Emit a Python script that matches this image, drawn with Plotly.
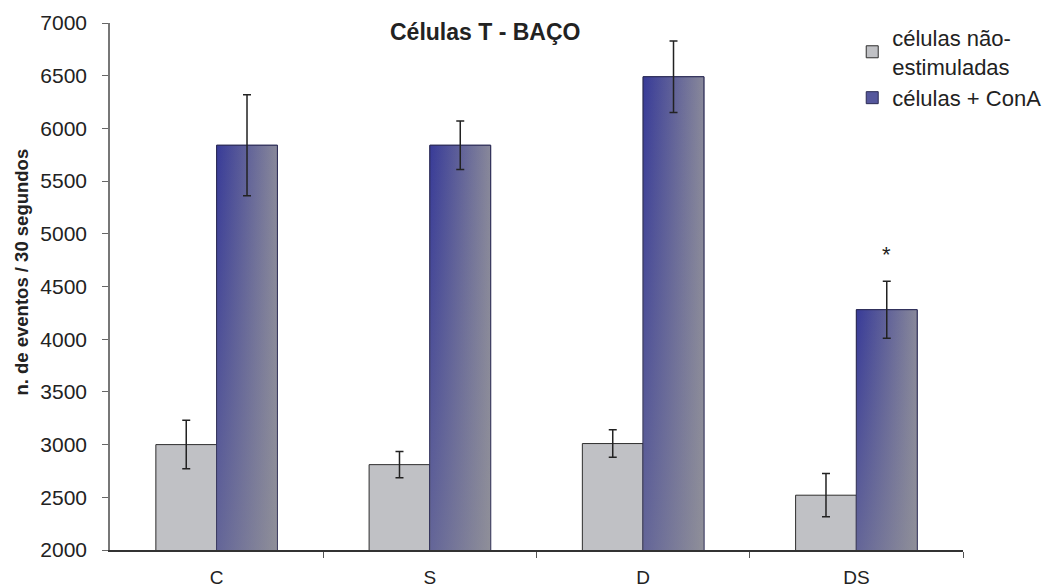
import plotly.graph_objects as go

# Groups on the x axis
groups = ["C", "S", "D", "DS"]

# Unstimulated cells (mean and error)
unstim = [3000, 2810, 3010, 2520]
unstim_err = [230, 125, 130, 205]

# Cells + ConA (mean and error)
cona = [5840, 5840, 6490, 4280]
cona_err = [480, 230, 340, 270]

# Significance marks above the ConA bars
sig_marks = ["", "", "", "*"]

y_ticks = [2000, 2500, 3000, 3500, 4000, 4500, 5000, 5500, 6000, 6500, 7000]

FONT = "Liberation Sans, Arial, sans-serif"
BARGAP = 0.43
W = (1 - BARGAP) / 2          # width of one bar in category units
pos = list(range(len(groups)))

fig = go.Figure()

fig.add_trace(go.Bar(
    x=pos, y=unstim, name="células não-<br>estimuladas", offsetgroup="a",
    marker=dict(color="#c0c1c5", line=dict(color="#2e2e2e", width=1)),
    error_y=dict(type="data", array=unstim_err, color="#222222", thickness=1.5, width=4),
    hoverinfo="skip",
))
fig.add_trace(go.Bar(
    x=pos, y=cona, name="células + ConA", offsetgroup="b",
    marker=dict(color="#55579c", line=dict(color="#2b2b55", width=1)),
    hoverinfo="skip",
))

# Gradient faces of the ConA bars, laid over the bars with the same geometry
for i, v in zip(pos, cona):
    xs = [i, i, i + W, i + W, i]
    ys = [0, v, v, 0, 0]
    fig.add_trace(go.Scatter(
        x=xs, y=ys, mode="lines", fill="toself",
        fillgradient=dict(type="horizontal",
                          colorscale=[[0, "#383b98"], [1, "#88889a"]]),
        line=dict(color="#2b2b55", width=1),
        showlegend=False, hoverinfo="skip",
    ))
    fig.add_trace(go.Scatter(
        x=xs, y=ys, mode="lines", fill="toself",
        fillgradient=dict(type="vertical", start=2000, stop=v,
                          colorscale=[[0, "rgba(152,152,152,0.45)"],
                                      [1, "rgba(152,152,152,0.0)"]]),
        line=dict(color="rgba(0,0,0,0)", width=0),
        showlegend=False, hoverinfo="skip",
    ))

# Error bars of the ConA bars (drawn above the gradient faces)
fig.add_trace(go.Scatter(
    x=[i + W / 2 for i in pos], y=cona, mode="markers",
    marker=dict(size=1, opacity=0),
    error_y=dict(type="data", array=cona_err, color="#222222", thickness=1.5, width=4),
    showlegend=False, hoverinfo="skip",
))

for i, v, e, s in zip(pos, cona, cona_err, sig_marks):
    if s:
        fig.add_annotation(x=i + W / 2, y=v + e, text=s, showarrow=False,
                           yanchor="bottom", yshift=12,
                           font=dict(family=FONT, size=22, color="#222222"))

fig.add_annotation(
    text="<b>Células T - BAÇO</b>", xref="paper", yref="paper",
    x=0.4396, y=0.983, xanchor="center", yanchor="middle", showarrow=False,
    font=dict(family=FONT, size=23, color="#222222"),
)
fig.add_annotation(
    text="<b>n. de eventos / 30 segundos</b>", xref="paper", yref="paper",
    x=-0.104, y=0.527, xanchor="center", yanchor="middle", textangle=-90,
    showarrow=False, font=dict(family=FONT, size=18.5, color="#222222"),
)

fig.update_layout(
    width=1058, height=587,
    margin=dict(l=110, r=95, t=23, b=37, autoexpand=False),
    paper_bgcolor="white", plot_bgcolor="white",
    barmode="group", bargap=BARGAP, bargroupgap=0,
    font=dict(family=FONT, color="#222222"),
    legend=dict(xref="container", yref="container",
                x=0.8055, y=0.9716, xanchor="left", yanchor="top",
                traceorder="normal", tracegroupgap=0,
                font=dict(family=FONT, size=22, color="#222222"),
                bgcolor="rgba(0,0,0,0)", itemwidth=30),
    showlegend=True,
)
fig.update_xaxes(
    range=[-0.5, 3.5], tickmode="array", tickvals=pos, ticktext=groups,
    ticks="", showgrid=False, zeroline=False, automargin=False,
    showline=True, linecolor="#333333", linewidth=1.5,
    tickfont=dict(family=FONT, size=19, color="#222222"),
    ticklabelstandoff=9,
    minor=dict(tickmode="array", tickvals=[0.5, 1.5, 2.5, 3.5],
               ticks="outside", ticklen=6, tickcolor="#555555", tickwidth=1),
)
fig.update_yaxes(
    range=[2000, 7000], tickmode="array", tickvals=y_ticks,
    ticks="outside", ticklen=6, tickcolor="#666666", tickwidth=1,
    showgrid=False, zeroline=False, automargin=False,
    showline=True, linecolor="#777777", linewidth=1.5,
    tickfont=dict(family=FONT, size=21, color="#222222"),
    ticklabelstandoff=11,
)

fig.write_html("out.html")
